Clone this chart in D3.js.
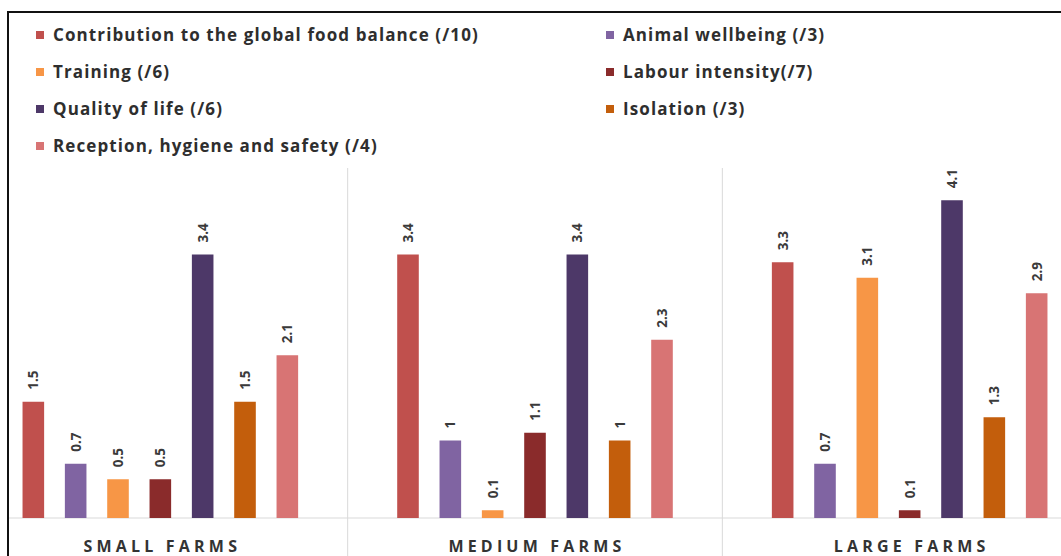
<!DOCTYPE html>
<html>
<head>
<meta charset="utf-8">
<script src="https://cdn.jsdelivr.net/npm/d3@7"></script>
<style>
  body { margin: 0; background: #fff; }
  svg { display: block; font-family: "Open Sans", Lato, sans-serif; }
</style>
</head>
<body>
<script>
var farms = ['SMALL FARMS', 'MEDIUM FARMS', 'LARGE FARMS'];
var seriesNames = [
  'Contribution to the global food balance (/10)',
  'Animal wellbeing (/3)',
  'Training (/6)',
  'Labour intensity(/7)',
  'Quality of life (/6)',
  'Isolation (/3)',
  'Reception, hygiene and safety (/4)'
];
var seriesColors = ['#c0504d', '#8064a2', '#f79646', '#8a2b2b', '#4d3868', '#c35e0c', '#d87474'];
var contribution = [1.5, 3.4, 3.3];
var wellbeing = [0.7, 1, 0.7];
var training = [0.5, 0.1, 3.1];
var labour = [0.5, 1.1, 0.1];
var quality = [3.4, 3.4, 4.1];
var isolation = [1.5, 1, 1.3];
var reception = [2.1, 2.3, 2.9];
var allValues = [contribution, wellbeing, training, labour, quality, isolation, reception];

// legend order: column 1 then column 2, Excel style
var legendCol1 = [0, 2, 4, 6];
var legendCol2 = [1, 3, 5];

var W = 1061, H = 556;
var svg = d3.select('body').append('svg')
  .attr('width', W)
  .attr('height', H);

var x0 = d3.scaleBand()
  .domain(farms)
  .range([-27, 1097])
  .paddingInner(0)
  .paddingOuter(0);

var x1 = d3.scaleBand()
  .domain(d3.range(seriesNames.length))
  .range([0, x0.bandwidth()])
  .paddingInner(0.49)
  .paddingOuter(1.17);

var y = d3.scaleLinear()
  .domain([0, 4.5])
  .range([518, 518 - 4.5 * 77.5]);

// border
svg.append('path')
  .attr('d', 'M8,' + H + 'V12H' + W)
  .attr('fill', 'none')
  .attr('stroke', '#111')
  .attr('stroke-width', 2);

// baseline + group separators
svg.append('line')
  .attr('x1', 9).attr('x2', W)
  .attr('y1', y(0)).attr('y2', y(0))
  .attr('stroke', '#d9d9d9');

svg.selectAll('.sep')
  .data(farms.slice(1))
  .enter().append('line')
    .attr('class', 'sep')
    .attr('x1', function(d){ return x0(d); })
    .attr('x2', function(d){ return x0(d); })
    .attr('y1', 168).attr('y2', H)
    .attr('stroke', '#d9d9d9');

var groups = svg.selectAll('.grp')
  .data(farms)
  .enter().append('g')
    .attr('class', 'grp')
    .attr('transform', function(d){ return 'translate(' + x0(d) + ',0)'; });

groups.each(function(farm, fi){
  var g = d3.select(this);
  var rows = allValues.map(function(vals, si){ return { s: si, v: vals[fi] }; });

  g.selectAll('rect')
    .data(rows)
    .enter().append('rect')
      .attr('x', function(d){ return x1(d.s); })
      .attr('width', x1.bandwidth())
      .attr('y', function(d){ return y(d.v); })
      .attr('height', function(d){ return y(0) - y(d.v); })
      .attr('fill', function(d){ return seriesColors[d.s]; });

  g.selectAll('.lbl')
    .data(rows)
    .enter().append('text')
      .attr('class', 'lbl')
      .attr('transform', function(d){
        return 'translate(' + (x1(d.s) + x1.bandwidth() / 2 + 5) + ',' + (y(d.v) - 12) + ') rotate(-90)';
      })
      .attr('font-size', 13.5)
      .attr('font-weight', 700)
      .attr('fill', '#3a3a3a')
      .text(function(d){ return d.v; });

  g.append('text')
    .attr('x', x0.bandwidth() / 2 + 2)
    .attr('y', 552)
    .attr('text-anchor', 'middle')
    .attr('font-size', 16)
    .attr('font-weight', 700)
    .attr('letter-spacing', 4.2)
    .attr('fill', '#333')
    .text(farm);
});

// legend
var legend = svg.append('g');
function drawLegend(idx, lx){
  var items = legend.selectAll(null)
    .data(idx)
    .enter().append('g')
      .attr('transform', function(d, i){ return 'translate(' + lx + ',' + (35 + i * 37) + ')'; });
  items.append('rect')
    .attr('x', 0).attr('y', -4)
    .attr('width', 8).attr('height', 8)
    .attr('fill', function(d){ return seriesColors[d]; });
  items.append('text')
    .attr('x', 17)
    .attr('dy', '0.35em')
    .attr('font-size', 17)
    .attr('font-weight', 700)
    .attr('letter-spacing', 1.1)
    .attr('fill', '#2e2e2e')
    .text(function(d){ return seriesNames[d]; });
}
drawLegend(legendCol1, 36);
drawLegend(legendCol2, 606);
</script>
</body>
</html>
